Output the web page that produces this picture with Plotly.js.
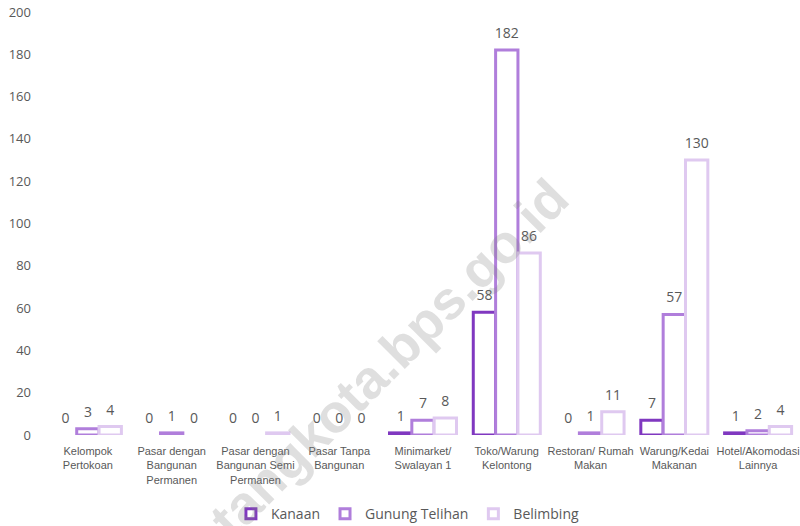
<!DOCTYPE html>
<html>
<head>
<meta charset="utf-8">
<script src="https://cdn.plot.ly/plotly-3.0.1.min.js"></script>
<style>html,body{margin:0;padding:0;background:#fff;}#chart{width:800px;height:526px;}</style>
</head>
<body>
<div id="chart"></div>
<script>
const categories = [
  "Kelompok<br>Pertokoan",
  "Pasar dengan<br>Bangunan<br>Permanen",
  "Pasar dengan<br>Bangunan Semi<br>Permanen",
  "Pasar Tanpa<br>Bangunan",
  "Minimarket/<br>Swalayan 1",
  "Toko/Warung<br>Kelontong",
  "Restoran/ Rumah<br>Makan",
  "Warung/Kedai<br>Makanan",
  "Hotel/Akomodasi<br>Lainnya"
];
const seriesNames = ["Kanaan", "Gunung Telihan", "Belimbing"];
const kanaan = [0, 0, 0, 0, 1, 58, 0, 7, 1];
const gunungTelihan = [3, 1, 0, 0, 7, 182, 1, 57, 2];
const belimbing = [4, 0, 1, 0, 8, 86, 11, 130, 4];
const colors = ["#8038C0", "#B07EDB", "#DFC9F0"];
const yTicks = [0, 20, 40, 60, 80, 100, 120, 140, 160, 180, 200];

const seriesValues = [kanaan, gunungTelihan, belimbing];
const traces = [];
seriesValues.forEach((vals, i) => {
  traces.push({
    type: "bar",
    name: seriesNames[i],
    showlegend: false,
    offsetgroup: String(i),
    x: categories,
    y: vals,
    marker: {color: "#ffffff", line: {color: colors[i], width: vals.map(v => v === 0 ? 0 : 3)}},
    hoverinfo: "none"
  });
});
// data labels, grouped like the bars
seriesValues.forEach((vals, i) => {
  traces.push({
    type: "scatter", mode: "markers+text", showlegend: false,
    offsetgroup: String(i),
    x: categories, y: vals,
    text: vals.map(String), textposition: "top center",
    textfont: {family: "Open Sans, sans-serif", size: 14, color: "#595959"},
    marker: {size: 12, opacity: 0},
    cliponaxis: false, hoverinfo: "none"
  });
});
// legend entries
seriesNames.forEach((n, i) => traces.push({
  type: "scatter", mode: "markers", name: n, x: [null], y: [null],
  offsetgroup: String(i),
  marker: {symbol: "square", size: 10, color: "#ffffff", line: {color: colors[i], width: 3}},
  hoverinfo: "none"
}));

const layout = {
  width: 800, height: 526,
  margin: {l: 46, r: 0, t: 12, b: 91, autoexpand: false},
  paper_bgcolor: "#ffffff", plot_bgcolor: "#ffffff",
  barmode: "group", bargap: 0.2, bargroupgap: 0,
  scattermode: "group", scattergap: 0.2,
  showlegend: true,
  legend: {orientation: "h", x: 0.48, xanchor: "center", y: -0.187, yanchor: "middle",
    font: {family: "Open Sans, sans-serif", size: 14, color: "#595959"}, itemwidth: 30, traceorder: "normal"},
  xaxis: {
    type: "category", showline: false, showgrid: false, zeroline: false, ticks: "",
    tickangle: 0, automargin: false, ticklabelstandoff: 8,
    tickfont: {family: "Liberation Sans, Arial, sans-serif", size: 11, color: "#595959"}
  },
  yaxis: {
    range: [0, 200], tickvals: yTicks, ticktext: yTicks.map(String),
    showline: false, showgrid: false, zeroline: false, ticks: "", automargin: false,
    ticklabelstandoff: 14,
    tickfont: {family: "Open Sans, sans-serif", size: 13, color: "#595959"}
  },
  annotations: [{
    text: "<b>bontangkota.bps.go.id</b>", xref: "paper", yref: "paper",
    x: 0.408, y: 0.1, xanchor: "center", yanchor: "middle", showarrow: false, textangle: -45,
    font: {family: "Liberation Sans, Arial, sans-serif", size: 54, color: "rgba(128,128,128,0.25)"}
  }]
};

Plotly.newPlot("chart", traces, layout, {staticPlot: true, displayModeBar: false});
</script>
</body>
</html>
